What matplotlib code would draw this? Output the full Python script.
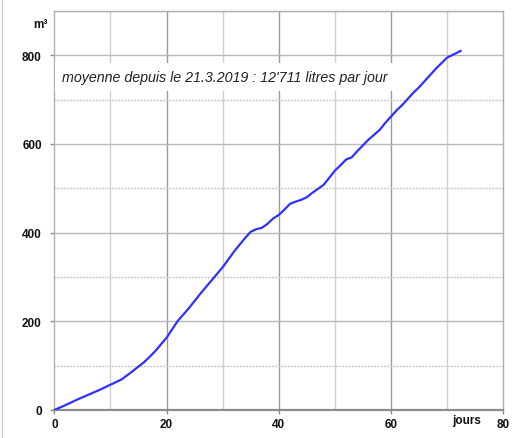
import matplotlib
matplotlib.use("Agg")
import matplotlib.pyplot as plt
from matplotlib.lines import Line2D

days = [0, 2, 4, 6, 8, 10, 12, 14, 16, 17, 18, 20, 21, 22, 24, 26, 28, 30, 32, 34, 35, 36, 37, 38,
        39, 40, 41, 42, 43, 44, 45, 46, 48, 50, 51, 52, 53, 54, 56, 58, 59, 60, 61, 62, 64, 65,
        66, 68, 70, 71, 72.4]
volume = [0, 11, 23, 34, 45, 57, 69, 88, 108, 120, 133, 163, 182, 201, 230, 262, 292, 322, 357, 388,
          402, 408, 411, 420, 432, 440, 452, 465, 470, 474, 480, 490, 508, 540, 552, 565, 570, 584,
          610, 632, 648, 662, 676, 688, 716, 728, 742, 770, 795, 801, 810]

x_major = [0, 20, 40, 60, 80]
y_major = [0, 200, 400, 600, 800]
x_minor = [10, 30, 50, 70]
y_minor = [100, 300, 500, 700]
note = "moyenne depuis le 21.3.2019 : 12'711 litres par jour"

plt.rcParams['font.family'] = ['Liberation Sans', 'DejaVu Sans']

fig = plt.figure(figsize=(5.31, 4.39), dpi=100)
ax = fig.add_axes([0.1023, 0.0638, 0.9478 - 0.1023, 0.9727 - 0.0638])
ax.set_xlim(0, 80)
ax.set_ylim(0, 900)

for v in x_minor:
    ax.axvline(v, color='#cfcfcf', lw=1.0, zorder=1)
for v in x_major[1:-1]:
    ax.axvline(v, color='#9a9a9a', lw=1.0, zorder=1)
for v in y_minor:
    ax.axhline(v, color='#c8c8c8', lw=1.0, ls=(0, (1.5, 0.8)), zorder=1)
for v in y_major[1:] + [900]:
    ax.axhline(v, color='#b8b8b8', lw=1.0, zorder=1)

ax.plot(days, volume, color='#3030ff', lw=1.6, zorder=3)

for s in ['top', 'right', 'left']:
    ax.spines[s].set_color('#b0b0b0')
    ax.spines[s].set_linewidth(1.0)
ax.spines['bottom'].set_color('#8c8c8c')
ax.spines['bottom'].set_linewidth(1.6)

ax.set_xticks(x_major)
ax.set_yticks(y_major)
ax.set_xticklabels([str(v) for v in x_major])
ax.tick_params(axis='both', labelsize=8.5, colors='#8c8c8c', labelcolor='#111111', length=3, width=1.0)
ax.tick_params(axis='y', pad=6)
ax.tick_params(axis='x', pad=3)
for lbl in ax.get_xticklabels() + ax.get_yticklabels():
    lbl.set_fontweight('bold')

ax.text(1.4, 752, note, fontsize=10.3, style='italic', color='#222222', va='center', ha='left', zorder=4,
        bbox=dict(facecolor='white', edgecolor='none', pad=5))
fig.text(40 / 531, 1 - 25 / 439, "m³", fontsize=8.5, fontweight='bold', ha='center', va='center', color='#111111')
fig.text(467 / 531, 1 - 421 / 439, "jours", fontsize=8.5, fontweight='bold', ha='center', va='center', color='#111111')

fig.add_artist(Line2D([1.5 / 531, 1.5 / 531], [0, 1], transform=fig.transFigure, color='#d0d0d0', lw=1.0))

fig.savefig("out.png", dpi=100)
